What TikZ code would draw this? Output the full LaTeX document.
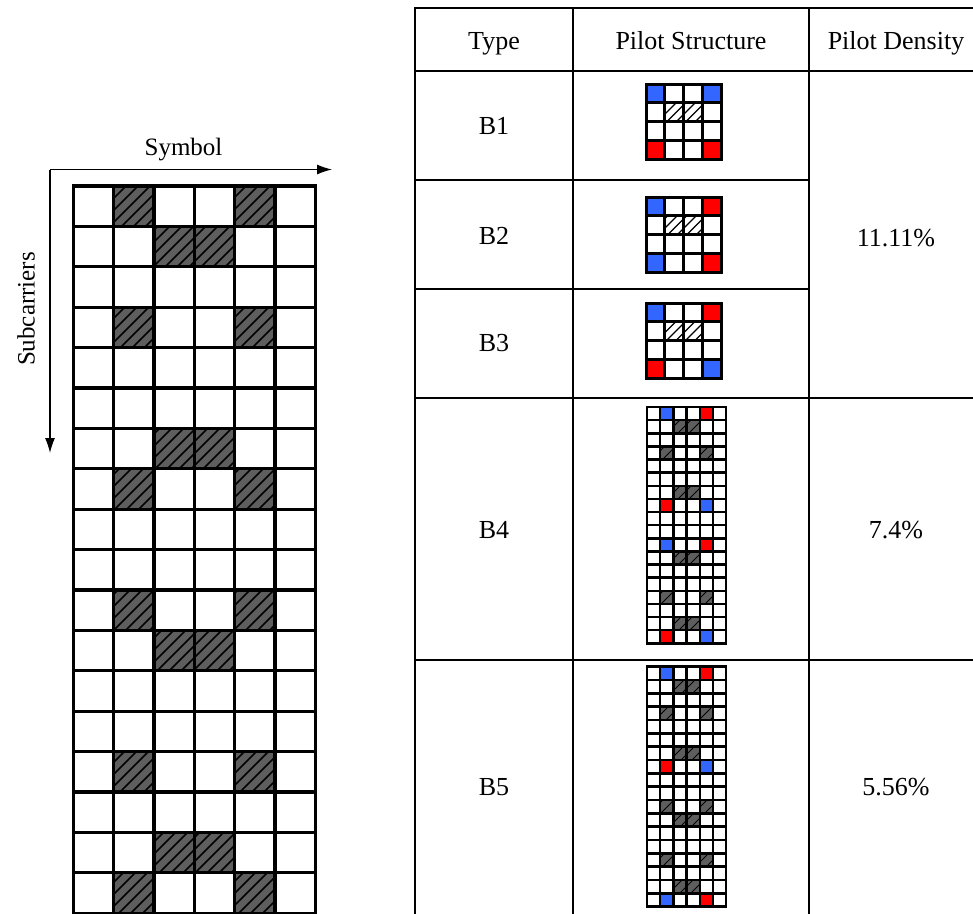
\documentclass[tikz,border=0pt]{standalone}
\usepackage{fontspec}
\setmainfont{Liberation Serif}
\usetikzlibrary{arrows.meta}
\definecolor{pblue}{HTML}{3366FF}
\definecolor{pred}{HTML}{FF0000}
\definecolor{hgray}{HTML}{5E5E5E}

% hatched cell: x, y, w, h, fill, spacing, hatch line width
\newcommand\hcell[7]{%
  \pgfmathsetmacro\hx{#1}\pgfmathsetmacro\hy{#2}%
  \pgfmathsetmacro\hw{#3}\pgfmathsetmacro\hh{#4}%
  \fill[#5] (\hx,\hy) rectangle ++(\hw,\hh);
  \begin{scope}
    \clip (\hx,\hy) rectangle ++(\hw,\hh);
    \pgfmathtruncatemacro\ka{floor((\hx+\hy)/(#6))}%
    \pgfmathtruncatemacro\kb{ceil((\hx+\hy+\hw+\hh)/(#6))}%
    \foreach \k in {\ka,...,\kb}{%
      \pgfmathsetmacro\hv{\k*(#6)}%
      \draw[line width=#7] ({\hv-\hy-\hh},{\hy+\hh}) -- ({\hv-\hy},{\hy});
    }
  \end{scope}}
% plain coloured cell
\newcommand\pcell[5]{\fill[#5] ({#1},{#2}) rectangle ++({#3},{#4});}
% grid lines: x, y, cw, ch, ncols, nrows, lw
\newcommand\gridlines[7]{%
  \foreach \i in {0,...,#5}{\draw[line width=#7,line cap=rect] ({#1+\i*#3},{#2}) -- ({#1+\i*#3},{#2+#6*#4});}
  \foreach \j in {0,...,#6}{\draw[line width=#7,line cap=rect] ({#1},{#2+\j*#4}) -- ({#1+#5*#3},{#2+\j*#4});}}

\begin{document}
\begin{tikzpicture}[x=1pt,y=-1pt,
  lbl/.style={font=\fontsize{26}{30}\selectfont, inner sep=0pt},
  axl/.style={font=\fontsize{25}{29}\selectfont, inner sep=0pt},
  tl/.style={line width=2pt},
  axis/.style={line width=1.2pt,-{Latex[length=15pt,width=10pt]}}]
\useasboundingbox (0,0) rectangle (973,913);
\clip (0,0) rectangle (973,913);
\fill[white] (0,0) rectangle (973,913);

% ---------- left grid ----------
\def\LX{73.3}\def\LY{186}\def\LW{40.35}\def\LH{40.4}
\foreach \r in {0,3,7,10,14,17}{\foreach \c in {1,4}{\hcell{\LX+\c*\LW}{\LY+\r*\LH}{\LW}{\LH}{hgray}{12}{1.6pt}}}
\foreach \r in {1,6,11,16}{\foreach \c in {2,3}{\hcell{\LX+\c*\LW}{\LY+\r*\LH}{\LW}{\LH}{hgray}{12}{1.6pt}}}
\gridlines{\LX}{\LY}{\LW}{\LH}{6}{18}{3.2pt}

% axes
\coordinate (O) at (50,169.5);
\coordinate (XE) at (332,169.5);
\coordinate (YE) at (50,453);
\draw[axis] (O) -- (XE);
\draw[axis] (O) -- (YE);
\node[axl] (sym) at (183.5,150) {Symbol};
\node[axl,rotate=90] (sub) at (26,309) {Subcarriers};

% ---------- table ----------
\draw[tl] (415,8) -- (1000,8);
\draw[tl] (415,71) -- (1000,71);
\draw[tl] (415,180) -- (809,180);
\draw[tl] (415,289) -- (809,289);
\draw[tl] (415,398) -- (1000,398);
\draw[tl] (415,660) -- (1000,660);
\draw[tl] (415,7) -- (415,1000);
\draw[tl] (573,7) -- (573,1000);
\draw[tl] (809,7) -- (809,1000);

\node[lbl,anchor=base] (h1) at (494,49) {Type};
\node[lbl,anchor=base] (h2) at (691,49) {Pilot Structure};
\node[lbl,anchor=base] (h3) at (896,49) {Pilot Density};
\node[lbl] (b1) at (494,126) {B1};
\node[lbl] (b2) at (494,236) {B2};
\node[lbl] (b3) at (494,343) {B3};
\node[lbl] (b4) at (494,530) {B4};
\node[lbl] (b5) at (494,787) {B5};
\node[lbl] (d1) at (896,238) {11.11\%};
\node[lbl] (d4) at (896,530) {7.4\%};
\node[lbl] (d5) at (896,787) {5.56\%};

% ---------- small grids B1-B3 ----------
\def\SX{646}\def\SW{18.9}
% B1
\def\SY{84}
\pcell{\SX}{\SY}{\SW}{\SW}{pblue}\pcell{\SX+3*\SW}{\SY}{\SW}{\SW}{pblue}
\pcell{\SX}{\SY+3*\SW}{\SW}{\SW}{pred}\pcell{\SX+3*\SW}{\SY+3*\SW}{\SW}{\SW}{pred}
\hcell{\SX+\SW}{\SY+\SW}{\SW}{\SW}{white}{9.5}{1.3pt}\hcell{\SX+2*\SW}{\SY+\SW}{\SW}{\SW}{white}{9.5}{1.3pt}
\gridlines{\SX}{\SY}{\SW}{\SW}{4}{4}{3pt}
% B2
\def\SY{197}
\pcell{\SX}{\SY}{\SW}{\SW}{pblue}\pcell{\SX+3*\SW}{\SY}{\SW}{\SW}{pred}
\pcell{\SX}{\SY+3*\SW}{\SW}{\SW}{pblue}\pcell{\SX+3*\SW}{\SY+3*\SW}{\SW}{\SW}{pred}
\hcell{\SX+\SW}{\SY+\SW}{\SW}{\SW}{white}{9.5}{1.3pt}\hcell{\SX+2*\SW}{\SY+\SW}{\SW}{\SW}{white}{9.5}{1.3pt}
\gridlines{\SX}{\SY}{\SW}{\SW}{4}{4}{3pt}
% B3
\def\SY{303}
\pcell{\SX}{\SY}{\SW}{\SW}{pblue}\pcell{\SX+3*\SW}{\SY}{\SW}{\SW}{pred}
\pcell{\SX}{\SY+3*\SW}{\SW}{\SW}{pred}\pcell{\SX+3*\SW}{\SY+3*\SW}{\SW}{\SW}{pblue}
\hcell{\SX+\SW}{\SY+\SW}{\SW}{\SW}{white}{9.5}{1.3pt}\hcell{\SX+2*\SW}{\SY+\SW}{\SW}{\SW}{white}{9.5}{1.3pt}
\gridlines{\SX}{\SY}{\SW}{\SW}{4}{4}{3pt}

% ---------- B4 ----------
\def\TX{647}\def\TW{13.2}\def\TY{407}\def\TH{13.13}
\foreach \r/\ca/\cb in {0/pblue/pred,7/pred/pblue,10/pblue/pred,17/pred/pblue}{%
  \pcell{\TX+\TW}{\TY+\r*\TH}{\TW}{\TH}{\ca}\pcell{\TX+4*\TW}{\TY+\r*\TH}{\TW}{\TH}{\cb}}
\foreach \r in {3,14}{\foreach \c in {1,4}{\hcell{\TX+\c*\TW}{\TY+\r*\TH}{\TW}{\TH}{hgray}{11}{0.9pt}}}
\foreach \r in {1,6,11,16}{\foreach \c in {2,3}{\hcell{\TX+\c*\TW}{\TY+\r*\TH}{\TW}{\TH}{hgray}{11}{0.9pt}}}
\gridlines{\TX}{\TY}{\TW}{\TH}{6}{18}{2.5pt}

% ---------- B5 ----------
\def\TY{666.7}\def\TH{13.33}
\foreach \r/\ca/\cb in {0/pblue/pred,7/pred/pblue,17/pblue/pred}{%
  \pcell{\TX+\TW}{\TY+\r*\TH}{\TW}{\TH}{\ca}\pcell{\TX+4*\TW}{\TY+\r*\TH}{\TW}{\TH}{\cb}}
\foreach \r in {3,10,14}{\foreach \c in {1,4}{\hcell{\TX+\c*\TW}{\TY+\r*\TH}{\TW}{\TH}{hgray}{11}{0.9pt}}}
\foreach \r in {1,6,11,16}{\foreach \c in {2,3}{\hcell{\TX+\c*\TW}{\TY+\r*\TH}{\TW}{\TH}{hgray}{11}{0.9pt}}}
\gridlines{\TX}{\TY}{\TW}{\TH}{6}{18}{2.5pt}
\end{tikzpicture}
\end{document}
